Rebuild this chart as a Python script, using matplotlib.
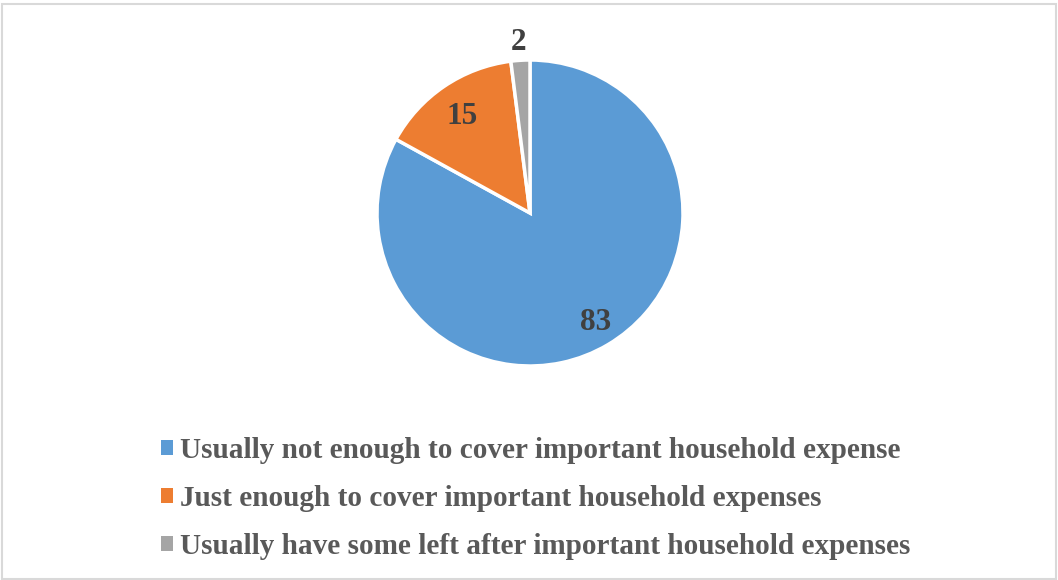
import matplotlib.pyplot as plt
from matplotlib.patches import Rectangle

categories = ["Usually not enough to cover important household expense",
              "Just enough to cover important household expenses",
              "Usually have some left after important household expenses"]
values = [83, 15, 2]
colors = ["#5B9BD5", "#ED7D31", "#A5A5A5"]

plt.rcParams['font.family'] = ['Liberation Serif', 'DejaVu Serif']

W, H = 1058, 580
fig = plt.figure(figsize=(W/100, H/100), dpi=100)
fig.patches.append(Rectangle((1.5/W, 1.5/H), (W-4)/W, (H-5)/H, transform=fig.transFigure,
                             fill=False, edgecolor='#d9d9d9', linewidth=1.5))

cx, cy, r = 530, 213, 153
ax = fig.add_axes([(cx-r)/W, (H-cy-r)/H, 2*r/W, 2*r/H])
wedges, _ = ax.pie(values, colors=colors, startangle=90, counterclock=False,
                   wedgeprops=dict(edgecolor='white', linewidth=2.5))
ax.set_xlim(-1, 1); ax.set_ylim(-1, 1)
ax.set_aspect('auto')

# data labels (positions in pixel coords relative to figure)
label_pos = [(596, 322), (462, 116), (519, 43)]
for v, (px, py) in zip(values, label_pos):
    fig.text(px/W, 1-py/H, str(v), ha='center', va='center', fontsize=22.5,
             fontweight='bold', color='#404040')

leg = fig.legend(wedges, categories, loc='upper left', bbox_to_anchor=(161/W, 1-437/H),
                 frameon=False, fontsize=21.1, handlelength=0.4, handleheight=0.4,
                 handletextpad=0.25, labelspacing=0.72, borderpad=0, borderaxespad=0)
for t in leg.get_texts():
    t.set_color('#595959'); t.set_fontweight('bold')
for h in leg.legend_handles:
    h.set_edgecolor('none')

fig.savefig('out.png', dpi=100)
